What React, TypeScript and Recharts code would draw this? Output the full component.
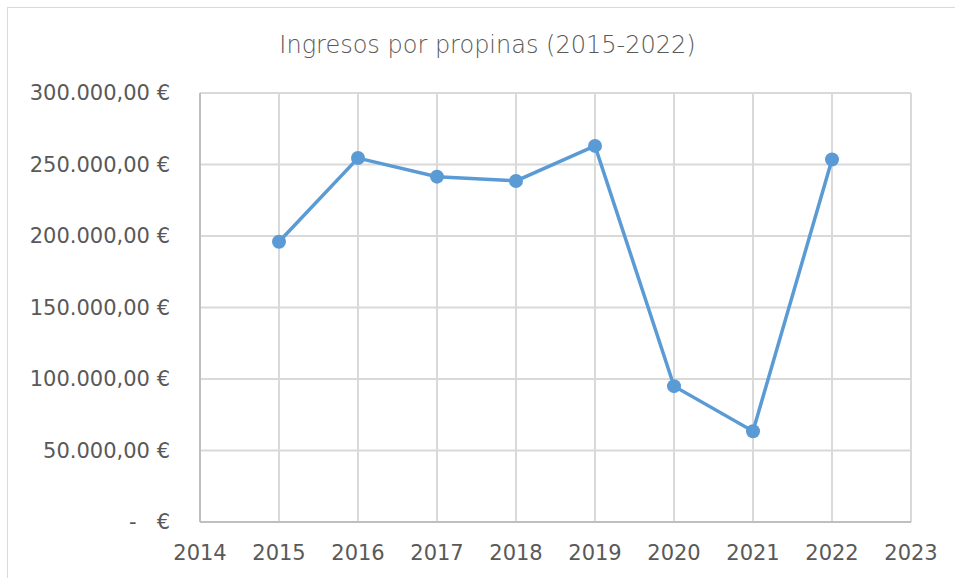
import React from "react";
import {
  LineChart,
  Line,
  XAxis,
  YAxis,
  CartesianGrid,
} from "recharts";

const years = [2015, 2016, 2017, 2018, 2019, 2020, 2021, 2022];
const ingresos = [196000, 254500, 241500, 238500, 263000, 95000, 63500, 253500];
const xTicks = [2014, 2015, 2016, 2017, 2018, 2019, 2020, 2021, 2022, 2023];
const yTicks = [0, 50000, 100000, 150000, 200000, 250000, 300000];

const data = years.map((year, i) => ({ year, ingresos: ingresos[i] }));

const fontFamily = "'DejaVu Sans', sans-serif";
const textColor = "#595959";

const formatEuro = (v: number) => {
  // Excel shows zero as a dash in accounting format
  if (v === 0) return "-\u00a0\u00a0\u00a0€";
  const s = Math.round(v)
    .toString()
    .replace(/\B(?=(\d{3})+(?!\d))/g, ".");
  return `${s},00\u00a0€`;
};

const App = () => {
  return (
    <div
      style={{
        position: "absolute",
        left: 0,
        top: 0,
        width: 955,
        height: 578,
        overflow: "hidden",
        background: "#fff",
        fontFamily,
      }}
    >
      <div
        style={{
          position: "absolute",
          left: 7,
          top: 7,
          width: 970,
          height: 590,
          border: "1px solid #d9d9d9",
        }}
      />
      <div
        style={{
          position: "absolute",
          top: 31,
          left: 0,
          width: 975,
          textAlign: "center",
          fontSize: 24,
          color: textColor,
          fontWeight: 300,
        }}
      >
        Ingresos por propinas (2015-2022)
      </div>
      <div style={{ position: "absolute", left: 0, top: 0 }}>
        <LineChart
          width={955}
          height={578}
          data={data}
          margin={{ top: 93, right: 44, bottom: 0, left: 0 }}
        >
          <CartesianGrid stroke="#d9d9d9" strokeWidth={2} />
          <XAxis
            type="number"
            dataKey="year"
            domain={[2014, 2023]}
            ticks={xTicks}
            interval={0}
            tickLine={false}
            tickSize={0}
            tickMargin={23}
            axisLine={{ stroke: "#bfbfbf", strokeWidth: 2 }}
            tick={{ fill: textColor, fontSize: 21, fontFamily }}
            height={56}
          />
          <YAxis
            type="number"
            domain={[0, 300000]}
            ticks={yTicks}
            interval={0}
            width={200}
            tickLine={false}
            tickSize={0}
            tickMargin={30}
            axisLine={{ stroke: "#bfbfbf", strokeWidth: 2 }}
            tickFormatter={formatEuro}
            tick={{ fill: textColor, fontSize: 21, fontFamily }}
          />
          <Line
            type="linear"
            dataKey="ingresos"
            stroke="#5b9bd5"
            strokeWidth={3.5}
            dot={{ r: 7, fill: "#5b9bd5", stroke: "#5b9bd5", strokeWidth: 0 }}
            isAnimationActive={false}
          />
        </LineChart>
      </div>
    </div>
  );
};

export default App;
